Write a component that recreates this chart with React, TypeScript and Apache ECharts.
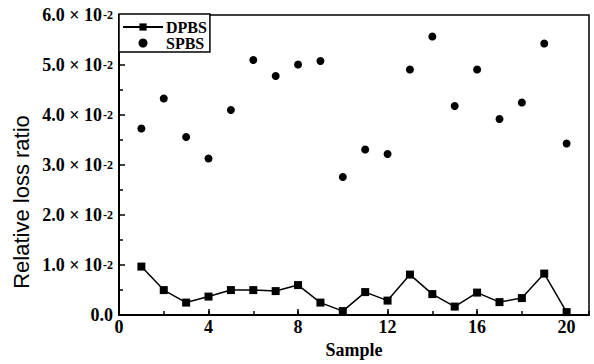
import React, { useEffect, useRef } from "react";
import * as echarts from "echarts";

const samples = [1, 2, 3, 4, 5, 6, 7, 8, 9, 10, 11, 12, 13, 14, 15, 16, 17, 18, 19, 20];
const dpbs = [0.97, 0.5, 0.25, 0.37, 0.5, 0.5, 0.48, 0.6, 0.25, 0.08, 0.46, 0.29, 0.81, 0.42, 0.17, 0.45, 0.26, 0.34, 0.83, 0.06];
const spbs = [3.73, 4.33, 3.56, 3.13, 4.1, 5.1, 4.78, 5.01, 5.08, 2.76, 3.31, 3.22, 4.91, 5.57, 4.18, 4.91, 3.92, 4.25, 5.43, 3.43];
const yTicks = [0, 1, 2, 3, 4, 5, 6];
const yExponent = "-2";

const SERIF = "Liberation Serif";

export default function App() {
  const ref = useRef<HTMLDivElement>(null);
  useEffect(() => {
    if (!ref.current) return;
    const chart = echarts.init(ref.current, null, { renderer: "svg" });
    const labelStyle = { fontFamily: SERIF, fontWeight: "bold" as const, fontSize: 18, color: "#000" };
    const yBase = {
      type: "value" as const,
      min: yTicks[0],
      max: yTicks[yTicks.length - 1],
      interval: 1,
      position: "left" as const,
      splitLine: { show: false },
    };
    const hiddenAxis = { axisLine: { show: false }, axisTick: { show: false } };
    chart.setOption({
      animation: false,
      backgroundColor: "#fff",
      grid: { left: 119, right: 5, top: 15, bottom: 43, show: true, borderColor: "#000", borderWidth: 1.5 },
      legend: {
        orient: "vertical",
        left: 119,
        top: 14,
        padding: [5, 3, 1, 3],
        itemGap: 0,
        itemWidth: 40,
        itemHeight: 9,
        borderColor: "#000",
        borderWidth: 1.5,
        backgroundColor: "#fff",
        textStyle: { fontFamily: SERIF, fontWeight: "bold", fontSize: 16, color: "#000", padding: [0, 0, 0, -2] },
        data: ["DPBS", "SPBS"],
      },
      xAxis: [
        {
          type: "value",
          min: 0,
          max: 21,
          interval: 4,
          name: "Sample",
          nameLocation: "middle",
          nameGap: 24,
          nameTextStyle: labelStyle,
          axisLine: { lineStyle: { color: "#000", width: 2 } },
          axisTick: { inside: true, length: 6, lineStyle: { color: "#000", width: 1.5 } },
          axisLabel: { ...labelStyle, margin: 3, showMaxLabel: false },
          splitLine: { show: false },
        },
        {
          type: "value",
          min: 0,
          max: 21,
          interval: 2,
          position: "bottom",
          axisLine: { show: false },
          axisTick: { inside: true, length: 4, lineStyle: { color: "#000", width: 1.5 } },
          axisLabel: { show: false },
          splitLine: { show: false },
        },
      ],
      yAxis: [
        {
          ...yBase,
          axisLine: { show: true, lineStyle: { color: "#000", width: 2 } },
          axisTick: { show: true, inside: true, length: 6, lineStyle: { color: "#000", width: 1.5 } },
          minorTick: { show: true, splitNumber: 2, length: 4, lineStyle: { color: "#000", width: 1.5 } },
          axisLabel: {
            ...labelStyle,
            margin: 17,
            formatter: (v: number) => (v === 0 ? "" : `${v.toFixed(1)} × 10`),
          },
        },
        {
          ...yBase,
          ...hiddenAxis,
          axisLabel: {
            ...labelStyle,
            fontSize: 12,
            margin: 6,
            padding: [0, 0, 7, 0],
            formatter: (v: number) => (v === 0 ? "" : yExponent),
          },
        },
        {
          ...yBase,
          ...hiddenAxis,
          axisLabel: {
            ...labelStyle,
            margin: 6,
            formatter: (v: number) => (v === 0 ? "0.0" : ""),
          },
        },
      ],
      graphic: [
        {
          type: "text",
          x: 21,
          y: 202,
          rotation: Math.PI / 2,
          style: {
            text: "Relative loss ratio",
            fontFamily: "Liberation Sans",
            fontSize: 22,
            fill: "#000",
            textAlign: "center",
            textVerticalAlign: "middle",
          },
        },
      ],
      series: [
        {
          name: "DPBS",
          type: "line",
          xAxisIndex: 0,
          yAxisIndex: 0,
          data: samples.map((s, i) => [s, dpbs[i]]),
          symbol: "rect",
          symbolSize: 8,
          lineStyle: { color: "#000", width: 1.5 },
          itemStyle: { color: "#000" },
        },
        {
          name: "SPBS",
          type: "scatter",
          xAxisIndex: 0,
          yAxisIndex: 0,
          data: samples.map((s, i) => [s, spbs[i]]),
          symbol: "circle",
          symbolSize: 8,
          itemStyle: { color: "#000", opacity: 1 },
        },
      ],
    });
    return () => chart.dispose();
  }, []);
  return <div ref={ref} style={{ width: 594, height: 364, position: "absolute", left: 0, top: 0 }} />;
}
